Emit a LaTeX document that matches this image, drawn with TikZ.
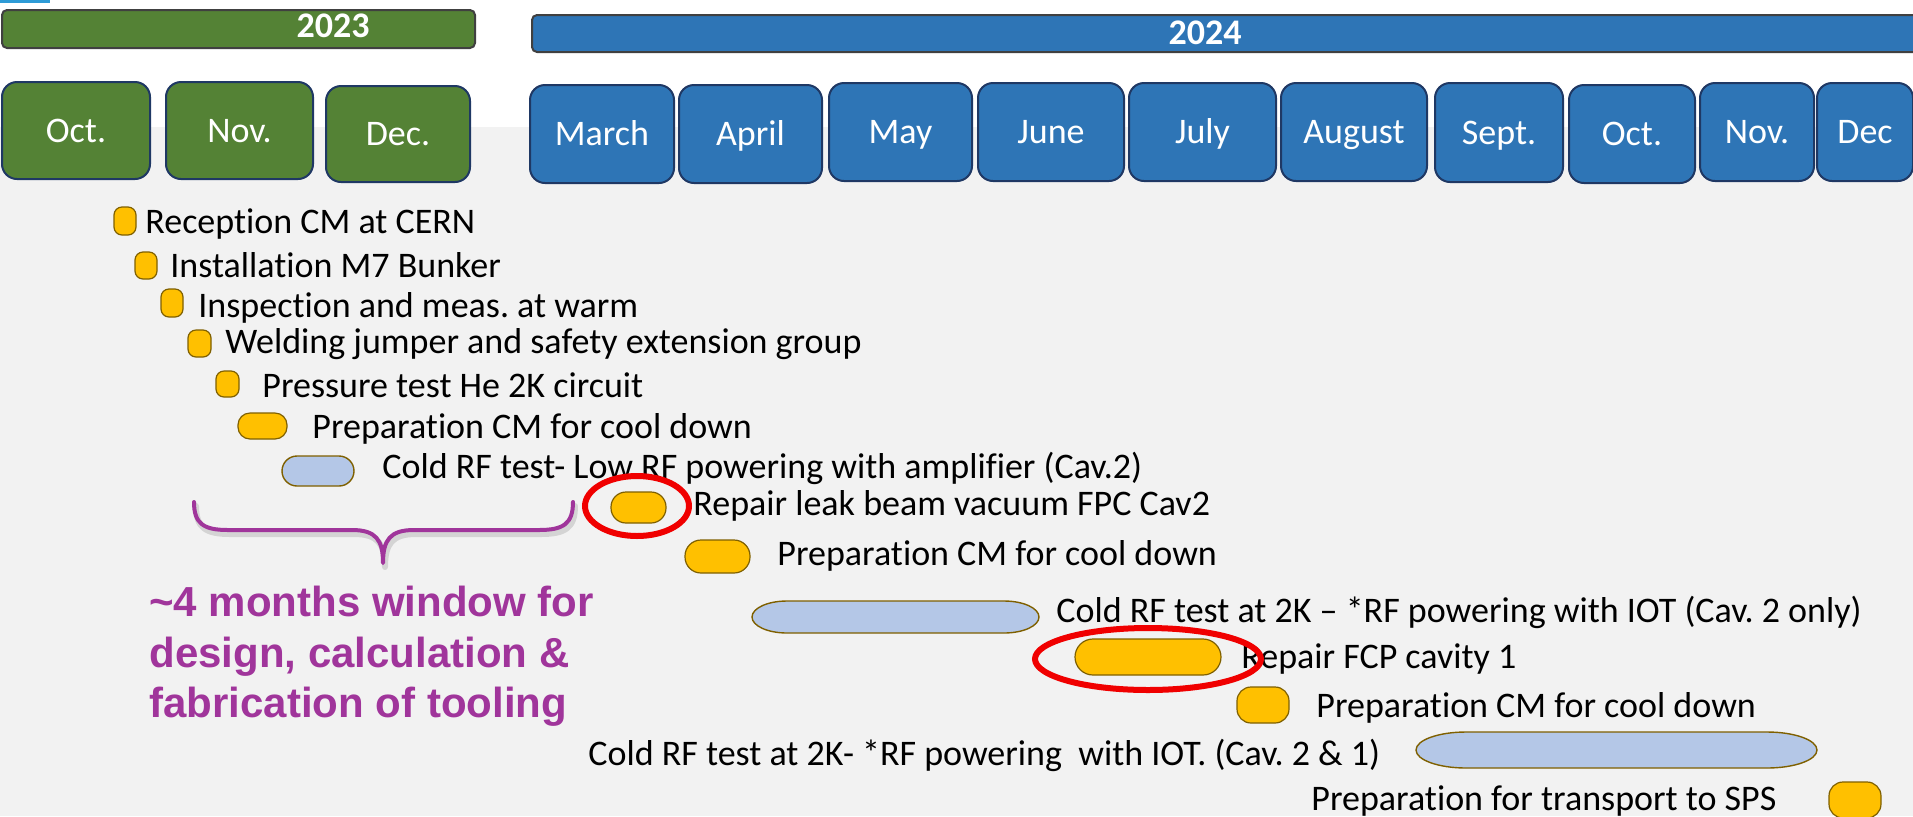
\documentclass[tikz,border=0pt]{standalone}
\usepackage{fontspec}
\setmainfont{Carlito}[Ligatures=NoCommon]
\newfontfamily\arialb{Liberation Sans}
\usetikzlibrary{shapes.geometric}
\definecolor{bggray}{HTML}{F2F2F2}
\definecolor{grn}{HTML}{548235}
\definecolor{blu}{HTML}{2E75B6}
\definecolor{navy}{HTML}{1F3864}
\definecolor{yearline}{HTML}{404040}
\definecolor{capY}{HTML}{FFC000}
\definecolor{capB}{HTML}{B4C7E7}
\definecolor{capline}{HTML}{7F6000}
\definecolor{ringred}{HTML}{F00000}
\definecolor{purp}{HTML}{A0359B}
\definecolor{tabblue}{HTML}{2E9BD6}
\frenchspacing

% month / bar box from corner coordinates: name, x1, y1, x2, y2, style, text
\newcommand{\mbx}[7]{\node[#6, minimum width={(#4-#2)*0.5pt}, minimum height={(#5-#3)*0.5pt}] (#1) at ({(#2+#4)/2},{(#3+#5)/2}) {#7};}
% capsule: name, cx, cy, w, h, corner radius (pt), style
\newcommand{\pill}[7]{\node[#7, minimum width={#4*0.5pt}, minimum height={#5*0.5pt}, rounded corners=#6pt] (#1) at (#2,#3) {};}
% long capsule with elliptical ends: name, cx, cy, w, h, end radius
\newcommand{\epill}[6]{%
  \pgfmathsetmacro\epXl{#2-#4/2}\pgfmathsetmacro\epXr{#2+#4/2}%
  \pgfmathsetmacro\epYt{#3-#5/2}\pgfmathsetmacro\epYb{#3+#5/2}%
  \pgfmathsetmacro\epKa{0.5523*#6}\pgfmathsetmacro\epKr{0.5523*#5/2}%
  \node[inner sep=0pt, minimum width={#4*0.5pt}, minimum height={#5*0.5pt}] (#1) at (#2,#3) {};
  \draw[pillB] (\epXl+#6,\epYt) -- (\epXr-#6,\epYt)
    .. controls (\epXr-#6+\epKa,\epYt) and (\epXr,#3-\epKr) .. (\epXr,#3)
    .. controls (\epXr,#3+\epKr) and (\epXr-#6+\epKa,\epYb) .. (\epXr-#6,\epYb)
    -- (\epXl+#6,\epYb)
    .. controls (\epXl+#6-\epKa,\epYb) and (\epXl,#3+\epKr) .. (\epXl,#3)
    .. controls (\epXl,#3-\epKr) and (\epXl+#6-\epKa,\epYt) .. cycle;}

\begin{document}
\begin{tikzpicture}[x=0.5pt,y=-0.5pt,
  yearbar/.style={draw=yearline, line width=1pt, rounded corners=2.5pt, inner sep=0pt},
  yeartext/.style={font=\bfseries\fontsize{18}{22}\selectfont, text=white, text height=11.6pt, text depth=0pt, inner sep=0pt},
  monthbox/.style={draw=navy, line width=1pt, rounded corners=7.5pt, font=\fontsize{18}{22}\selectfont, text=white, text height=11.6pt, text depth=0pt, inner sep=0pt},
  gbox/.style={monthbox, fill=grn},
  bbox/.style={monthbox, fill=blu},
  task/.style={font=\fontsize{18}{22}\selectfont, inner sep=0pt, anchor=base west},
  pillY/.style={draw=capline, fill=capY, line width=0.6pt, inner sep=0pt},
  pillB/.style={draw=capline, fill=capB, line width=0.7pt, inner sep=0pt},
  ring/.style={ellipse, draw=ringred, line width=3pt, inner sep=0pt},
  note/.style={font=\arialb\bfseries\fontsize{21}{25}\selectfont, text=purp, inner sep=0pt, anchor=base west},
  brace/.style={draw=purp, line width=2pt, line cap=round, line join=round},
]
\useasboundingbox (0,0) rectangle (1913,816);

% page background
\fill[bggray] (0,127) rectangle (1913,816);
\fill[tabblue] (0,0) rectangle (50,3);

% year bars
\mbx{bar23}{2}{10}{475}{48}{yearbar, fill=grn}{}
\mbx{bar24}{532}{15}{1930}{52}{yearbar, fill=blu}{}
\node[yeartext] (y23) at (333,26) {2023};
\node[yeartext] (y24) at (1205,33) {2024};

% months 2023
\mbx{m23oct}{2}{82}{150}{179}{gbox}{Oct.}
\mbx{m23nov}{166}{82}{313}{179}{gbox}{Nov.}
\mbx{m23dec}{326}{86}{470}{182}{gbox}{Dec.}

% months 2024
\mbx{m24mar}{530}{85}{674}{183}{bbox}{March}
\mbx{m24apr}{679}{85}{822}{183}{bbox}{April}
\mbx{m24may}{829}{83}{972}{181}{bbox}{May}
\mbx{m24jun}{978}{83}{1124}{181}{bbox}{June}
\mbx{m24jul}{1129}{83}{1276}{181}{bbox}{July}
\mbx{m24aug}{1281}{83}{1427}{181}{bbox}{August}
\mbx{m24sep}{1435}{83}{1563}{182}{bbox}{Sept.}
\mbx{m24oct}{1569}{85}{1695}{183}{bbox}{Oct.}
\mbx{m24nov}{1700}{83}{1814}{181}{bbox}{Nov.}
\mbx{m24dec}{1817}{83}{1913}{181}{bbox}{Dec}

% activities
\pill{p1}{125}{221}{22}{28}{4}{pillY}
\node[task] (t1) at (145,233) {Reception CM at CERN};
\pill{p2}{146}{265.5}{22}{27}{4}{pillY}
\node[task] (t2) at (170,277) {Installation M7 Bunker};
\pill{p3}{172}{303}{22}{28}{4}{pillY}
\node[task] (t3) at (198,317) {Inspection and meas. at warm};
\pill{p4}{199.5}{343.5}{23}{27}{4}{pillY}
\node[task] (t4) at (225,353) {Welding jumper and safety extension group};
\pill{p5}{227.5}{384}{23}{26}{4}{pillY}
\node[task] (t5) at (262,397) {Pressure test He 2K circuit};
\pill{p6}{262.5}{426}{49}{26}{6}{pillY}
\node[task] (t6) at (312,438) {Preparation CM for cool down};
\pill{p7}{318}{471}{72}{30}{7.5}{pillB}
\node[task] (t7) at (382,478) {Cold RF test- Low RF powering with amplifier (Cav.2)};
\pill{p8}{638.5}{507.5}{55}{31}{7.5}{pillY}
\node[task] (t8) at (693,515) {Repair leak beam vacuum FPC Cav2};
\pill{p9}{717.5}{556.5}{65}{33}{8}{pillY}
\node[task] (t9) at (777,565) {Preparation CM for cool down};
\epill{p10}{895.5}{617}{287}{32}{35}
\node[task] (t10) at (1056,622) {Cold RF test at 2K – *RF powering with IOT (Cav. 2 only)};
\pill{p11}{1148}{657}{146}{36}{9}{pillY}
\node[task] (t11) at (1241,668) {Repair FCP cavity 1};
\pill{p12}{1263}{705}{52}{36}{7}{pillY}
\node[task] (t12) at (1316,717) {Preparation CM for cool down};
\epill{p13}{1616.5}{750}{401}{36}{50}
\node[task] (t13) at (588,765) {Cold RF test at 2K- *RF powering\ \ with IOT. (Cav. 2 \& 1)};
\pill{p14}{1855}{800}{52}{36}{7}{pillY}
\node[task] (t14) at (1311,810) {Preparation for transport to SPS};

% highlighted repairs
\node[ring, minimum width=52pt, minimum height=30pt] (r1) at (637,506) {};
\node[ring, minimum width=113pt, minimum height=31pt] (r2) at (1148,659) {};

% tooling window brace
\begin{scope}[shift={(2,4)}]
\draw[brace, draw=black, opacity=0.12, line width=3pt]
  (194,502) .. controls (194,524) and (204,530) .. (228,530) -- (352,530)
  .. controls (376,530) and (383,540) .. (383,563)
  .. controls (383,540) and (390,530) .. (414,530) -- (539,530)
  .. controls (563,530) and (573,524) .. (573,502);
\end{scope}
\draw[brace]
  (194,502) .. controls (194,524) and (204,530) .. (228,530) -- (352,530)
  .. controls (376,530) and (383,540) .. (383,563)
  .. controls (383,540) and (390,530) .. (414,530) -- (539,530)
  .. controls (563,530) and (573,524) .. (573,502);

\node[note] (n1) at (149,616) {\textasciitilde4 months window for};
\node[note] (n2) at (149,667) {design, calculation \&};
\node[note] (n3) at (149,717) {fabrication of tooling};
\end{tikzpicture}
\end{document}
